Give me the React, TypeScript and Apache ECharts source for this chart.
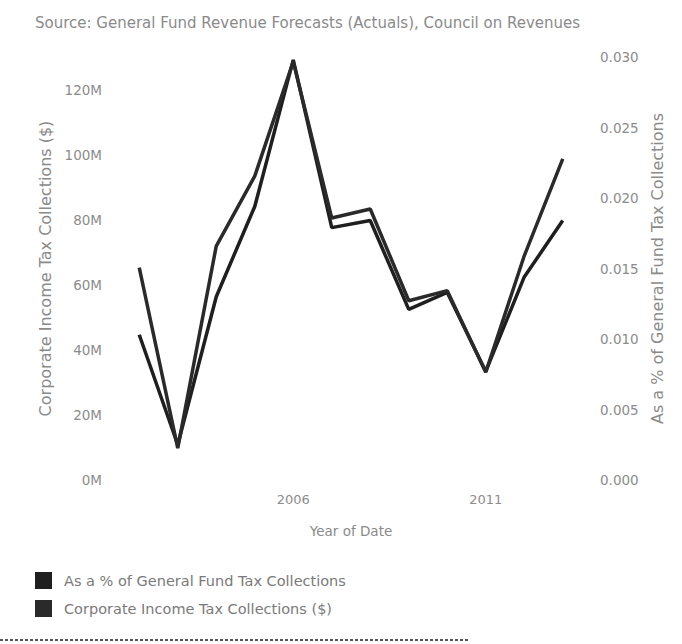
import React, { useEffect, useRef } from "react";
import * as echarts from "echarts";

const years = ["2002", "2003", "2004", "2005", "2006", "2007", "2008", "2009", "2010", "2011", "2012", "2013"];
const xLabelYears = ["2006", "2011"];
// Corporate Income Tax Collections ($)
const corporateTax = [65.3e6, 9.8e6, 71.9e6, 93.4e6, 128.6e6, 80.5e6, 83.3e6, 55.1e6, 58.2e6, 33.1e6, 68.9e6, 98.7e6];
// As a % of General Fund Tax Collections
const pctOfFund = [0.0103, 0.0025, 0.013, 0.0194, 0.0298, 0.0179, 0.0184, 0.0121, 0.0133, 0.0077, 0.0144, 0.0184];

const seriesNames = ["As a % of General Fund Tax Collections", "Corporate Income Tax Collections ($)"];
const sourceText = "Source: General Fund Revenue Forecasts (Actuals), Council on Revenues";

export default function App() {
  const ref = useRef<HTMLDivElement>(null);
  useEffect(() => {
    if (!ref.current) return;
    const chart = echarts.init(ref.current, null, { renderer: "svg" });
    const font = "'DejaVu Sans', 'Liberation Sans', Arial, sans-serif";
    const gray = "#8c8c8c";
    chart.setOption({
      animation: false,
      backgroundColor: "#ffffff",
      textStyle: { fontFamily: font },
      title: {
        text: sourceText,
        left: 30,
        top: 10,
        textStyle: { fontSize: 15, fontWeight: "normal", color: "#8a8a8a", fontFamily: font },
      },
      legend: {
        orient: "vertical",
        left: 30,
        top: 567,
        itemWidth: 17,
        itemHeight: 17,
        itemGap: 11,
        icon: "rect",
        data: seriesNames,
        textStyle: { fontSize: 14.5, color: "#7a7a7a", fontFamily: font, padding: [0, 0, 0, 7] },
      },
      grid: { left: 120, right: 100, top: 57, bottom: 164 },
      xAxis: {
        type: "category",
        data: years,
        boundaryGap: true,
        axisLine: { show: false },
        axisTick: { show: false },
        axisLabel: {
          color: gray,
          fontSize: 13,
          margin: 13,
          interval: (_i: number, v: string) => xLabelYears.includes(v),
        },
        name: "Year of Date",
        nameLocation: "middle",
        nameGap: 44,
        nameTextStyle: { color: "#8a8a8a", fontSize: 13.5, fontFamily: font },
      },
      yAxis: [
        {
          type: "value",
          position: "left",
          min: 0,
          max: 130e6,
          interval: 20e6,
          splitLine: { show: false },
          axisLine: { show: false },
          axisTick: { show: false },
          axisLabel: {
            color: gray,
            fontSize: 13.5,
            margin: 18,
            showMaxLabel: false,
            formatter: (v: number) => (v > 125e6 ? "" : Math.round(v / 1e6) + "M"),
          },
          name: seriesNames[1],
          nameLocation: "middle",
          nameRotate: 90,
          nameGap: 67,
          nameTextStyle: { color: "#8a8a8a", fontSize: 16, fontFamily: font },
        },
        {
          type: "value",
          position: "right",
          min: 0,
          max: 0.03,
          interval: 0.005,
          splitLine: { show: false },
          axisLine: { show: false },
          axisTick: { show: false },
          axisLabel: {
            color: gray,
            fontSize: 13.5,
            margin: 18,
            formatter: (v: number) => v.toFixed(3),
          },
          name: seriesNames[0],
          nameLocation: "middle",
          nameRotate: 90,
          nameGap: 67,
          nameTextStyle: { color: "#8a8a8a", fontSize: 16, fontFamily: font },
        },
      ],
      series: [
        {
          name: seriesNames[0],
          type: "line",
          yAxisIndex: 1,
          data: pctOfFund,
          symbol: "none",
          itemStyle: { color: "#1f1f1f" },
          lineStyle: { color: "#1f1f1f", width: 3.5 },
        },
        {
          name: seriesNames[1],
          type: "line",
          yAxisIndex: 0,
          data: corporateTax,
          symbol: "none",
          itemStyle: { color: "#2a2a2a" },
          lineStyle: { color: "#2a2a2a", width: 3.5 },
        },
      ],
      graphic: [
        {
          type: "line",
          shape: { x1: 0, y1: 640, x2: 470, y2: 640 },
          style: { stroke: "#555", lineWidth: 2, lineDash: [3, 2] },
        },
      ],
    });
    return () => chart.dispose();
  }, []);
  return (
    <div
      ref={ref}
      style={{ position: "absolute", left: 0, top: 0, width: 682, height: 644, background: "#fff" }}
    />
  );
}
